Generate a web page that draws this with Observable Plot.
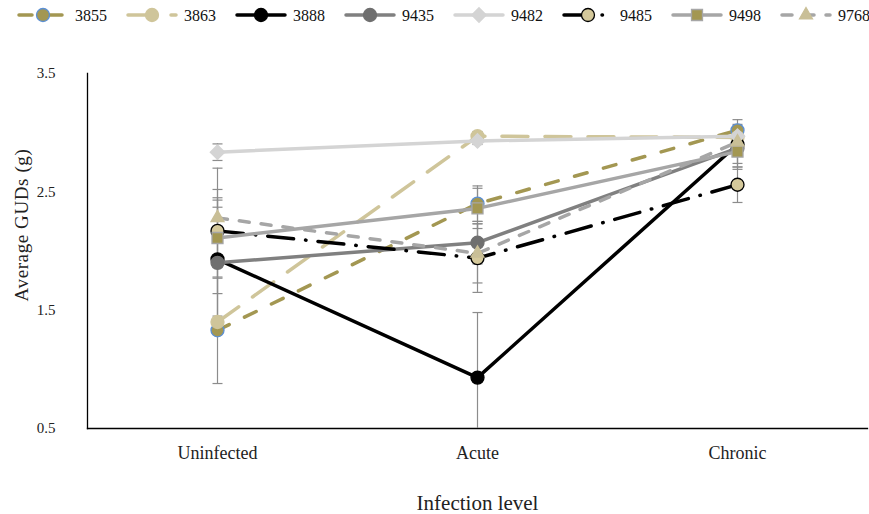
<!DOCTYPE html>
<html><head><meta charset="utf-8">
<script src="https://cdn.jsdelivr.net/npm/d3@7"></script>
<script src="https://cdn.jsdelivr.net/npm/@observablehq/plot@0.6"></script>
<style>
body{margin:0;background:#fff;font-family:"Liberation Serif",serif;}
#legend svg, #chart svg{display:block}
</style></head><body>
<div id="legend"></div><div id="chart"></div>
<script>
// ---- data ----
const categories = ["Uninfected", "Acute", "Chronic"];
const seriesNames = ["3855", "3863", "3888", "9435", "9482", "9485", "9498", "9768"];
const v3855 = [1.33, 2.40, 3.02];
const v3863 = [1.40, 2.97, 2.96];
const v3888 = [1.93, 0.93, 2.90];
const v9435 = [1.90, 2.07, 2.87];
const v9482 = [2.835, 2.93, 2.97];
const v9485 = [2.17, 1.94, 2.56];
const v9498 = [2.11, 2.36, 2.84];
const v9768 = [2.28, 1.98, 2.92];
const err3855 = [0.45, 0.15, 0.05];
const err3863 = [0.05, 0.04, 0.03];
const err3888 = [0.59, 0.55, 0.21];
const err9435 = [0.53, 0.18, 0.16];
const err9482 = [0.07, 0.03, 0.03];
const err9485 = [0.53, 0.29, 0.15];
const err9498 = [0.34, 0.17, 0.10];
const err9768 = [0.09, 0.25, 0.08];
const yTicks = [0.5, 1.5, 2.5, 3.5];
const yLabel = "Average GUDs (g)";
const xLabel = "Infection level";

const values = [v3855, v3863, v3888, v9435, v9482, v9485, v9498, v9768];
const errors = [err3855, err3863, err3888, err9435, err9482, err9485, err9498, err9768];

// ---- styles ----
const OLIVE = "#a39752", TAN = "#cfc59a";
const styles = {
  "3855": {line: OLIVE, dash: "13,17", symbol: "circle", r: 6.5, fill: OLIVE, stroke: "#5b8fd4"},
  "3863": {line: TAN, dash: "26,17", symbol: "circle", r: 6.5, fill: TAN, stroke: TAN},
  "3888": {line: "#000", dash: null, symbol: "circle", r: 6.5, fill: "#000", stroke: "#000"},
  "9435": {line: "#808080", dash: null, symbol: "circle", r: 6.5, fill: "#6f6f6f", stroke: "#6f6f6f"},
  "9482": {line: "#d4d4d4", dash: null, symbol: "diamond2", r: 6.5, fill: "#d4d4d4", stroke: "#d4d4d4"},
  "9485": {line: "#000", dash: "26,12,0.5,12", symbol: "circle", r: 6.5, fill: "#d5c99b", stroke: "#000"},
  "9498": {line: "#a6a6a6", dash: null, symbol: "square", r: 6.2, fill: OLIVE, stroke: "#a6a6a6"},
  "9768": {line: "#a6a6a6", dash: "10,12", symbol: "triangle", r: 4.8, fill: "#c9bf97", stroke: "#c9bf97"}
};

const rows = [];
seriesNames.forEach((s, i) => categories.forEach((c, j) =>
  rows.push({s, c, v: values[i][j], e: errors[i][j]})));
const yMin = yTicks[0];
const caps = [];
rows.forEach(r => {
  caps.push({c: r.c, y: r.v + r.e});
  if (r.v - r.e >= yMin) caps.push({c: r.c, y: r.v - r.e});
});

const capSymbol = {draw(ctx) { ctx.moveTo(-5, 0); ctx.lineTo(5, 0); }};

const marks = [
  Plot.ruleX(rows, {x: "c", y1: d => Math.max(yMin, d.v - d.e), y2: d => d.v + d.e, stroke: "#8c8c8c", strokeWidth: 1.2}),
  Plot.dot(caps, {x: "c", y: "y", symbol: capSymbol, r: 5, fill: "none", stroke: "#8c8c8c", strokeWidth: 1.2})
];
seriesNames.forEach(s => {
  const st = styles[s];
  const d = rows.filter(r => r.s === s);
  marks.push(Plot.line(d, {x: "c", y: "v", stroke: st.line, strokeWidth: 3.5,
    strokeDasharray: st.dash, strokeLinecap: "round", strokeLinejoin: "round"}));
  marks.push(Plot.dot(d, {x: "c", y: "v", symbol: st.symbol, r: st.r, fill: st.fill, stroke: st.stroke, strokeWidth: 1.3}));
});

const chart = Plot.plot({
  width: 869, height: 484,
  marginLeft: 87, marginRight: 2, marginTop: 43, marginBottom: 86,
  style: {fontFamily: "Liberation Serif, serif", background: "#fff", color: "#222", overflow: "visible"},
  x: {type: "point", domain: categories, padding: 0.5, axis: null},
  y: {domain: [yTicks[0], yTicks[yTicks.length - 1]], axis: null},
  marks: [
    Plot.frame({anchor: "left", stroke: "#000", strokeWidth: 1.3}),
    Plot.frame({anchor: "bottom", stroke: "#000", strokeWidth: 1.3}),
    Plot.axisY({ticks: yTicks, tickSize: 0, tickPadding: 32, fontSize: 15, label: null, tickFormat: d => d.toFixed(1)}),
    Plot.axisX({tickSize: 0, tickPadding: 18, fontSize: 18, label: null}),
    Plot.text([yLabel], {frameAnchor: "left", textAnchor: "middle", dx: -66, dy: -26, rotate: -90, fontSize: 19, text: d => d, fill: "#222"}),
    Plot.text([xLabel], {frameAnchor: "bottom", dy: 81, fontSize: 21, text: d => d, fill: "#222"}),
    ...marks
  ]
});
chart.querySelectorAll("text").forEach(t => {
  if (t.textContent === yLabel) t.setAttribute("letter-spacing", "0.6");
});
document.getElementById("chart").appendChild(chart);

// ---- legend (SVG, real text) ----
const lg = d3.select("#legend").append("svg").attr("width", 869).attr("height", 30)
  .attr("font-family", "Liberation Serif, serif").attr("font-size", 16);
const symMap = {circle: d3.symbolCircle, diamond2: d3.symbolDiamond2, square: d3.symbolSquare, triangle: d3.symbolTriangle};
seriesNames.forEach((s, i) => {
  const st = styles[s];
  const g = lg.append("g").attr("transform", `translate(${16 + i * 109},15)`);
  g.append("line").attr("x1", 3).attr("x2", 51).attr("y1", 0).attr("y2", 0)
    .attr("stroke", st.line).attr("stroke-width", 3.5).attr("stroke-linecap", "round")
    .attr("stroke-dasharray", st.dash);
  g.append("path").attr("transform", "translate(27,0)")
    .attr("d", d3.symbol(symMap[st.symbol], st.r * st.r * Math.PI)())
    .attr("fill", st.fill).attr("stroke", st.stroke).attr("stroke-width", 1.3);
  g.append("text").attr("x", 59).attr("y", 0).attr("dy", "0.35em").attr("fill", "#111").text(s);
});
</script>
</body></html>
